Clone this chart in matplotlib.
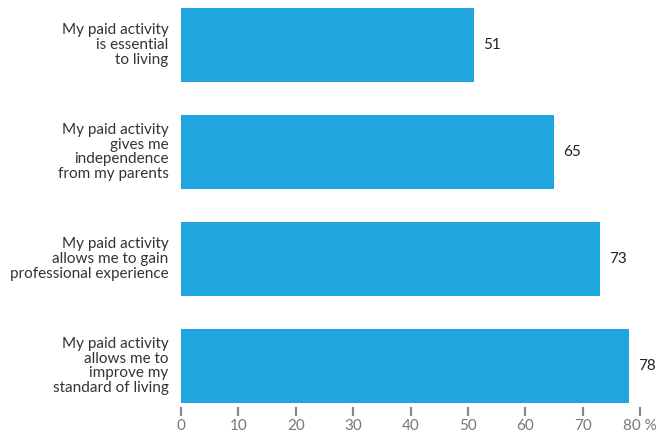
import matplotlib
matplotlib.use('Agg')
import matplotlib.pyplot as plt

plt.rcParams['font.family'] = ['Lato', 'DejaVu Sans']

categories = [
    "My paid activity\nis essential\nto living",
    "My paid activity\ngives me\nindependence\nfrom my parents",
    "My paid activity\nallows me to gain\nprofessional experience",
    "My paid activity\nallows me to\nimprove my\nstandard of living",
]
values = [51, 65, 73, 78]
ticks = [0, 10, 20, 30, 40, 50, 60, 70, 80]
tick_labels = ["0", "10", "20", "30", "40", "50", "60", "70", "80 %"]

W, H = 658, 434
fig = plt.figure(figsize=(W / 100, H / 100), dpi=100)
ax = fig.add_axes([181 / W, 1 - 407 / H, (640 - 181) / W, (407 - 8) / H])

y = list(range(len(categories)))
ax.barh(y, values, height=0.69, color='#21a5de')
ax.set_xlim(0, 80)
ax.set_ylim(3.383, -0.346)

for yi, v in zip(y, values):
    ax.text(v + 1.6, yi, str(v), va='center', ha='left', fontsize=11, color='#222222')

for yi, c in zip(y, categories):
    ax.text(-2.2, yi, c, va='center', ha='right', fontsize=11, color='#333333',
            linespacing=1.05)

for s in ax.spines.values():
    s.set_visible(False)
ax.set_yticks([])
ax.set_xticks(ticks)
ax.set_xticklabels(tick_labels)
ax.tick_params(axis='x', length=6.5, width=1.6, color='#888888', pad=2.5,
               labelsize=11, labelcolor='#777777')

fig.savefig('out.png', dpi=100)
